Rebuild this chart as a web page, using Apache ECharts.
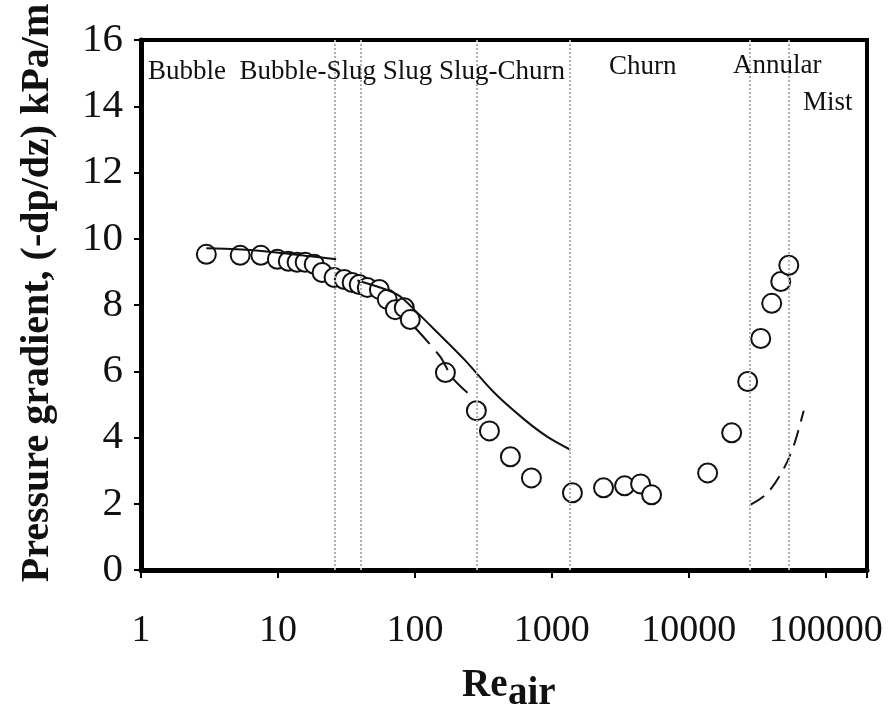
<!DOCTYPE html>
<html>
<head>
<meta charset="utf-8">
<script src="https://cdn.jsdelivr.net/npm/echarts@6/dist/echarts.min.js"></script>
<style>
html,body{margin:0;padding:0;background:#fff;}
#main{width:895px;height:711px;}
</style>
</head>
<body>
<div id="main"></div>
<script>
// Measured data (open circles)
const reAir = [3.0, 5.3, 7.5, 9.9, 11.9, 13.8, 15.8, 18.4, 21, 25.7, 30.5, 34.8, 39.2, 44.9, 55, 62.8, 71.9, 83.6, 92.5, 167, 281, 350, 498, 709, 1413, 2383, 3396, 4445, 5346, 13720, 20550, 26900, 33500, 40300, 46900, 53700];
const dpdz = [9.53, 9.5, 9.5, 9.38, 9.32, 9.29, 9.29, 9.23, 8.98, 8.83, 8.77, 8.68, 8.62, 8.53, 8.47, 8.17, 7.86, 7.92, 7.56, 5.96, 4.81, 4.2, 3.42, 2.78, 2.33, 2.48, 2.54, 2.6, 2.27, 2.93, 4.14, 5.69, 6.99, 8.05, 8.71, 9.2];

// Model curves
const bubbleModelX = [3.0, 5.0, 7.9, 17.2, 26.6];
const bubbleModelY = [9.71, 9.68, 9.62, 9.47, 9.38];
const slugModelX = [38, 74, 104, 146, 230, 380, 631, 929, 1368];
const slugModelY = [8.74, 8.32, 7.77, 7.17, 6.35, 5.35, 4.54, 4.02, 3.63];
const churnModelX = [100, 153, 187, 242];
const churnModelY = [7.32, 6.44, 5.81, 5.35];
const annularModelX = [28300, 37700, 50200, 59300, 69000];
const annularModelY = [1.97, 2.33, 3.12, 3.84, 4.81];

// Regime boundaries (Re_air)
const boundaries = [26.2, 39.9, 281, 1345, 27800, 53700];

// Regime names
const regimeNames = ['Bubble  Bubble-Slug Slug Slug-Churn', 'Churn', 'Annular', 'Mist'];

// Axis ticks
const yTicks = [0, 2, 4, 6, 8, 10, 12, 14, 16];
const xTickLabels = ['1', '10', '100', '1000', '10000', '100000'];

const zip = (xs, ys) => xs.map((x, i) => [x, ys[i]]);
const serif = 'Liberation Serif';

// Label layout (pixels)
const regimePos = [[148, 72], [609, 67], [733, 66], [803, 103]];

const chart = echarts.init(document.getElementById('main'), null, {renderer: 'canvas'});

const graphics = regimeNames.map((t, i) => ({
  type: 'text', x: regimePos[i][0], y: regimePos[i][1], z: 10,
  style: {text: t, font: '27px "' + serif + '"', fill: '#111', align: 'left', verticalAlign: 'middle'}
}));
graphics.push({
  type: 'text', x: 38, y: 293, rotation: Math.PI / 2, z: 10,
  style: {text: 'Pressure gradient, (-dp/dz) kPa/m', font: 'bold 40px "' + serif + '"', fill: '#111', align: 'center', verticalAlign: 'middle'}
});
graphics.push({
  type: 'text', x: 462, y: 686, z: 10,
  style: {text: 'Re', font: 'bold 39px "' + serif + '"', fill: '#111', align: 'left', verticalAlign: 'middle'}
});
graphics.push({
  type: 'text', x: 508, y: 694, z: 10,
  style: {text: 'air', font: 'bold 39px "' + serif + '"', fill: '#111', align: 'left', verticalAlign: 'middle'}
});

const option = {
  backgroundColor: '#fff',
  animation: false,
  grid: {left: 141, right: 28, top: 40, bottom: 141, show: true, borderColor: '#000', borderWidth: 4, backgroundColor: 'transparent'},
  xAxis: {
    type: 'log', logBase: 10, min: 1, max: 200000, interval: 1,
    axisLine: {show: true, lineStyle: {color: '#000', width: 5}},
    axisTick: {show: true, length: 8, lineStyle: {color: '#000', width: 2}},
    splitLine: {show: false},
    axisLabel: {
      margin: 42, color: '#111', fontFamily: serif, fontSize: 38,
      formatter: function (v) {
        const l = Math.log10(v);
        const r = Math.round(l);
        if (Math.abs(l - r) > 1e-6) return '';
        return xTickLabels[r] || '';
      }
    }
  },
  yAxis: {
    type: 'value', min: yTicks[0], max: yTicks[yTicks.length - 1], interval: 2,
    axisLine: {show: true, lineStyle: {color: '#000', width: 5}},
    axisTick: {show: true, length: 7, lineStyle: {color: '#000', width: 2}},
    splitLine: {show: false},
    axisLabel: {margin: 18, color: '#111', fontFamily: serif, fontSize: 41}
  },
  graphic: graphics,
  series: [
    {
      type: 'line', data: [], silent: true,
      markLine: {
        silent: true, symbol: 'none', label: {show: false},
        lineStyle: {type: 'dotted', color: '#b0b0b0', width: 2},
        data: boundaries.map(b => ({xAxis: b}))
      }
    },
    {
      type: 'scatter', data: zip(reAir, dpdz), symbol: 'circle', symbolSize: 19, z: 3,
      itemStyle: {color: '#fff', borderColor: '#111', borderWidth: 2, opacity: 1}
    },
    {type: 'line', data: zip(bubbleModelX, bubbleModelY), smooth: 0.3, showSymbol: false, z: 4,
      lineStyle: {color: '#111', width: 2}},
    {type: 'line', data: zip(slugModelX, slugModelY), smooth: 0.3, showSymbol: false, z: 4,
      lineStyle: {color: '#111', width: 2}},
    {type: 'line', data: zip(churnModelX, churnModelY), smooth: 0.3, showSymbol: false, z: 4,
      lineStyle: {color: '#111', width: 2, type: [22, 10]}},
    {type: 'line', data: zip(annularModelX, annularModelY), smooth: 0.3, showSymbol: false, z: 4,
      lineStyle: {color: '#111', width: 2, type: [16, 9]}}
  ]
};
chart.setOption(option);
</script>
</body>
</html>
